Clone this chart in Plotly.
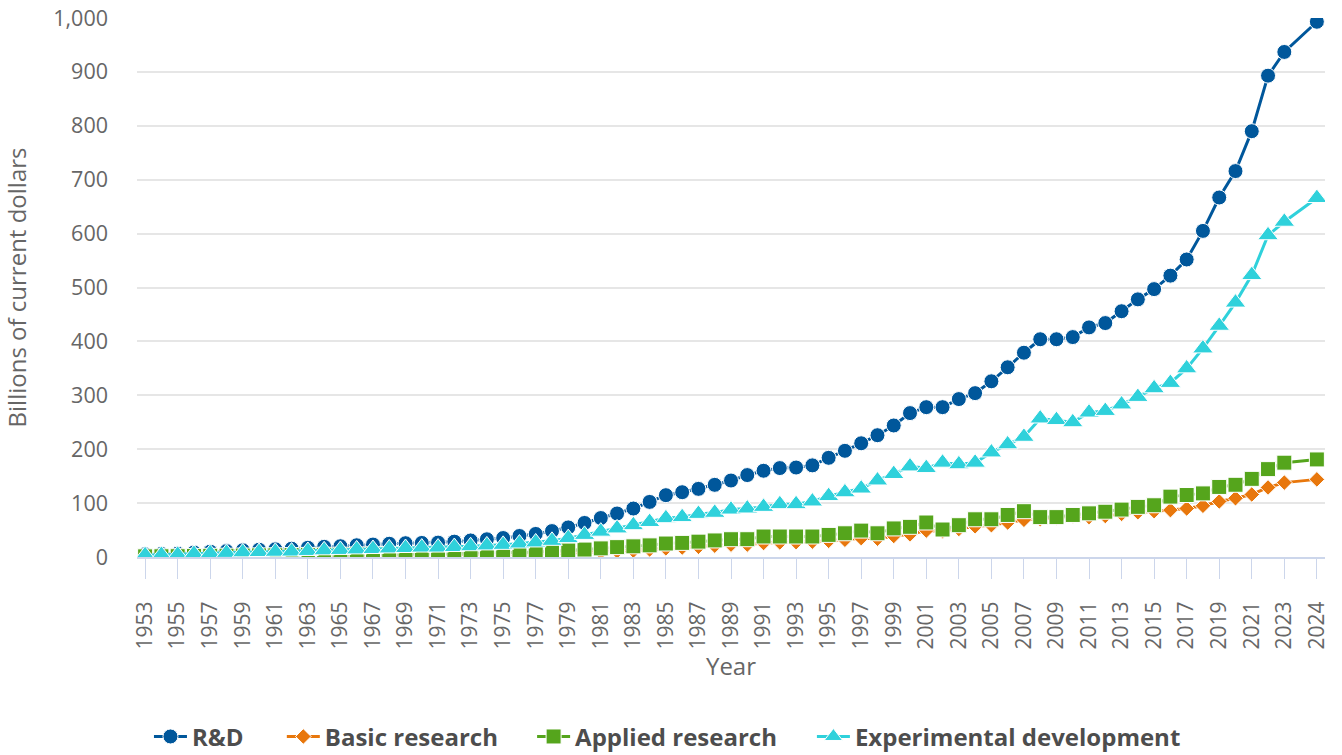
import plotly.graph_objects as go

years = [str(y) for y in range(1953, 2025)]

rd = [5.2, 5.7, 6.3, 8.5, 9.9, 10.9, 12.5,
      13.5, 14.3, 15.4, 17.1, 18.9, 20.0, 21.8, 23.1, 24.6, 25.6,
      26.1, 26.7, 28.5, 30.7, 32.9, 35.2, 39.0, 42.8, 48.1, 54.9,
      63.2, 72.3, 80.7, 89.9, 102.2, 114.7, 120.2, 126.4, 133.9, 141.9,
      152, 160, 165, 166, 170, 184, 197, 211, 226, 244,
      267, 278, 278, 293, 304, 326, 352, 379, 404, 404,
      408, 426, 434, 456, 478, 497, 522, 552, 605, 667,
      716, 790, 893, 937, 993]

basic = [0.4, 0.45, 0.55, 0.7, 0.8, 0.9, 1.1,
         1.2, 1.4, 1.7, 2.0, 2.3, 2.6, 3.0, 3.3, 3.4, 3.4,
         3.6, 3.7, 3.8, 4.0, 4.2, 4.6, 5.0, 5.6, 6.4, 7.2,
         8.1, 9.1, 11, 12, 14, 16, 17.5, 19, 21, 23,
         23, 26, 27, 27.5, 28.5, 30, 32, 35, 34, 39,
         42, 49, 48, 52, 57, 59, 64, 69, 70, 73,
         76, 74, 76, 80, 83, 85, 87, 90, 95, 103,
         109, 116, 129, 138, 144]

applied = [1.2, 1.4, 1.5, 2.0, 2.2, 2.4, 2.7,
           3.0, 3.2, 3.6, 3.9, 4.2, 4.3, 4.7, 5.0, 5.3, 5.5,
           5.6, 5.9, 6.3, 6.6, 7.0, 7.6, 8.4, 9.2, 10.5, 12.0,
           13.8, 16.0, 18.3, 19.8, 21.6, 25.0, 26.2, 28.5, 30.7, 33,
           33, 38, 38, 38, 38, 41, 44, 49, 44, 53,
           56, 64, 51, 59, 70, 70, 78, 85, 74, 74,
           78, 81, 84, 88, 93, 96, 112, 115, 118, 130,
           134, 145, 163, 175, 181]

expdev = [3.4, 3.9, 4.2, 5.9, 6.9, 7.6, 8.7,
          9.3, 9.7, 10.1, 11.2, 12.4, 13.1, 14.1, 14.8, 15.9, 16.7,
          17.5, 17.5, 18.5, 20, 21.5, 22.5, 25, 27, 30, 35,
          41, 47, 53, 59, 65, 72, 74, 80, 82, 88,
          90, 93, 98, 98, 103, 113, 120, 127, 142, 154,
          168, 165, 175, 172, 175, 194, 209, 223, 257, 254,
          250, 268, 271, 283, 297, 313, 323, 350, 387, 429,
          472, 523, 597, 622, 666]

# axis categories: the source chart leaves one empty slot before the final year
categories = years[:-1] + ["gap"] + years[-1:]
tick_years = [str(y) for y in range(1953, 2024, 2)] + ["2024"]

series = [
    ("R&D", rd, "#00579B", "circle", 15),
    ("Basic research", basic, "#E8770C", "diamond", 12),
    ("Applied research", applied, "#55A51C", "square", 15),
    ("Experimental development", expdev, "#2FD1DB", "triangle-up", 18),
]
legend_ids = ["legend", "legend2", "legend3", "legend4"]
legend_x = [0.1110, 0.2100, 0.3965, 0.6050]

font = "Open Sans, Noto Sans, sans-serif"
legend_font = dict(family=font, size=24, color="#4d4d4d", weight="bold")

fig = go.Figure()
for (name, vals, color, sym, size), lid in zip(series, legend_ids):
    fig.add_trace(go.Scatter(
        x=years, y=vals, name=name, mode="lines+markers",
        line=dict(color=color, width=3),
        marker=dict(symbol=sym, size=size, color=color,
                    line=dict(color="#ffffff", width=1)),
        legend=lid,
    ))

legends = {}
for lid, lx in zip(legend_ids, legend_x):
    legends[lid] = dict(orientation="h", xref="container", yref="container",
                        x=lx, xanchor="left", y=0.024, yanchor="middle",
                        font=legend_font, itemwidth=33,
                        bgcolor="rgba(0,0,0,0)", borderwidth=0)

fig.update_layout(
    width=1342, height=755,
    margin=dict(l=137, r=17, t=18, b=198),
    paper_bgcolor="white", plot_bgcolor="white",
    font=dict(family=font, color="#666666"),
    showlegend=True,
    **legends,
)
fig.update_xaxes(
    type="category", categoryorder="array", categoryarray=categories,
    range=[-0.5, len(categories) - 0.5],
    tickmode="array", tickvals=tick_years, ticktext=tick_years,
    tickangle=-90, tickfont=dict(size=21, color="#666666"),
    ticks="outside", ticklen=20, tickcolor="#ccd6eb", tickwidth=1,
    ticklabelstandoff=14,
    showline=True, linecolor="#ccd6eb", linewidth=2,
    showgrid=False, zeroline=False,
    title=dict(text="Year", font=dict(size=24, color="#666666"), standoff=4),
    automargin=False,
)
fig.update_yaxes(
    range=[0, 1000], tickvals=list(range(0, 1001, 100)), tickformat=",",
    tickfont=dict(size=21.5, color="#666666"), ticklabeloverflow="allow",
    showgrid=True, gridcolor="#e6e6e6", gridwidth=2,
    showline=False, zeroline=False, ticklabelstandoff=28,
    title=dict(text="Billions of current dollars", font=dict(size=24, color="#666666"), standoff=19),
    automargin=False,
)
# remove the default page margin so the figure fills the window exactly
fig.write_html("out.html", config={"displayModeBar": False},
               post_script="document.body.style.margin='0';")
